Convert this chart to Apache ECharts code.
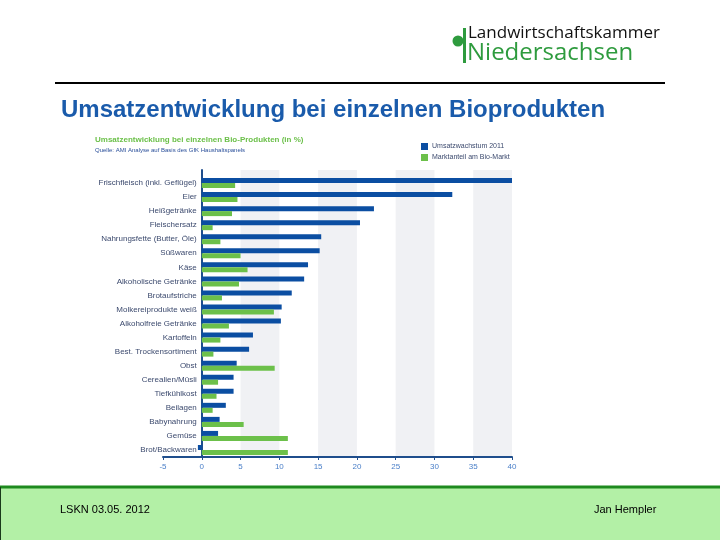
<!DOCTYPE html>
<html>
<head>
<meta charset="utf-8">
<script src="https://cdn.jsdelivr.net/npm/echarts@6/dist/echarts.min.js"></script>
<style>html,body{margin:0;padding:0;background:#fff}#c{width:720px;height:540px}</style>
</head>
<body>
<div id="c"></div>
<script>
const categories = [
  'Frischfleisch (inkl. Geflügel)', 'Eier', 'Heißgetränke', 'Fleischersatz',
  'Nahrungsfette (Butter, Öle)', 'Süßwaren', 'Käse', 'Alkoholische Getränke',
  'Brotaufstriche', 'Molkereiprodukte weiß', 'Alkoholfreie Getränke', 'Kartoffeln',
  'Best. Trockensortiment', 'Obst', 'Cerealien/Müsli', 'Tiefkühlkost',
  'Beilagen', 'Babynahrung', 'Gemüse', 'Brot/Backwaren'
];
const growth2011 = [40, 32.3, 22.2, 20.4, 15.4, 15.2, 13.7, 13.2, 11.6, 10.3, 10.2, 6.6, 6.1, 4.5, 4.1, 4.1, 3.1, 2.3, 2.1, -0.5];
const marketShare = [4.3, 4.6, 3.9, 1.4, 2.4, 5.0, 5.9, 4.8, 2.6, 9.3, 3.5, 2.4, 1.5, 9.4, 2.1, 1.9, 1.4, 5.4, 11.1, 11.1];
const xMin = -5, xMax = 40, xStep = 5;
const seriesNames = ['Umsatzwachstum 2011', 'Marktanteil am Bio-Markt'];

const BLUE = '#0b4ea2', GREEN = '#6cc04a';
const chart = echarts.init(document.getElementById('c'), null, {renderer: 'canvas'});
const chartFont = 'Liberation Sans';

// plot frame (pixels); the zero line sits inside the frame, labels hang off it
const gridLeft = 163, gridRight = 208;
const plotW = 720 - gridLeft - gridRight;
const zeroOffset = (0 - xMin) / (xMax - xMin) * plotW;
const bandLeft = gridLeft + zeroOffset;

chart.setOption({
  animation: false,
  backgroundColor: '#ffffff',
  title: [
    {text: 'Umsatzentwicklung bei einzelnen Bioprodukten', left: 56, top: 93,
     textStyle: {fontFamily: 'Liberation Sans', fontWeight: 'bold', fontSize: 24, color: '#1a5bab'}},
    {text: 'Umsatzentwicklung bei einzelnen Bio-Produkten (in %)', left: 90, top: 131,
     textStyle: {fontFamily: chartFont, fontWeight: 'bold', fontSize: 8, color: GREEN},
     subtext: 'Quelle: AMI Analyse auf Basis des GfK Haushaltspanels', itemGap: 3,
     subtextStyle: {fontFamily: chartFont, fontSize: 6, color: '#2a4f9a'}},
    {text: 'LSKN 03.05. 2012', left: 55, top: 499,
     textStyle: {fontFamily: 'Liberation Sans', fontWeight: 'normal', fontSize: 11, color: '#000'}},
    {text: 'Jan Hempler', left: 589, top: 499,
     textStyle: {fontFamily: 'Liberation Sans', fontWeight: 'normal', fontSize: 11, color: '#000'}}
  ],
  legend: {
    orient: 'vertical', left: 416, top: 138, itemGap: 4, itemWidth: 7, itemHeight: 7, icon: 'rect',
    data: seriesNames,
    textStyle: {fontFamily: chartFont, fontSize: 7, color: '#3c4a6e', padding: [0, 0, 0, -1]}
  },
  grid: [
    {left: bandLeft, right: gridRight, top: 170, bottom: 83, containLabel: false},
    {left: gridLeft, right: gridRight, top: 176, bottom: 83, containLabel: false}
  ],
  xAxis: [
    {gridIndex: 0, type: 'value', min: 0, max: xMax, interval: xStep,
     axisLine: {show: false}, axisTick: {show: false}, axisLabel: {show: false},
     splitLine: {show: false},
     splitArea: {show: true, areaStyle: {color: ['rgba(0,0,0,0)', '#f0f1f4']}}},
    {gridIndex: 1, type: 'value', min: xMin, max: xMax, interval: xStep,
     axisLine: {show: true, lineStyle: {color: '#1f4e8c', width: 2}},
     axisTick: {show: true, length: 3, lineStyle: {color: '#1f4e8c'}},
     axisLabel: {show: true, margin: 6, fontFamily: chartFont, fontSize: 8, color: '#4a7fc8'},
     splitLine: {show: false}, splitArea: {show: false}}
  ],
  yAxis: [
    {gridIndex: 0, type: 'category', data: categories, inverse: true,
     axisLine: {show: true, onZero: false, lineStyle: {color: '#1f4e8c', width: 2}},
     axisTick: {show: false}, axisLabel: {show: false}},
    {gridIndex: 1, type: 'category', data: categories, inverse: true,
     axisLine: {show: false, onZero: false},
     axisTick: {show: false},
     axisLabel: {show: true, margin: 5 - zeroOffset, fontFamily: chartFont, fontSize: 8, color: '#3c4a6e'}}
  ],
  series: [
    {name: seriesNames[0], type: 'bar', xAxisIndex: 1, yAxisIndex: 1, data: growth2011,
     barWidth: 5, barGap: '0%', itemStyle: {color: BLUE}},
    {name: seriesNames[1], type: 'bar', xAxisIndex: 1, yAxisIndex: 1, data: marketShare,
     barWidth: 5, barGap: '0%', itemStyle: {color: GREEN}}
  ],
  graphic: [
    {type: 'line', shape: {x1: 55, y1: 83, x2: 665, y2: 83}, style: {stroke: '#000', lineWidth: 2}},
    {type: 'rect', shape: {x: 0, y: 486, width: 720, height: 54}, style: {fill: '#b3f0a6'}, z: -1},
    {type: 'line', shape: {x1: 0, y1: 487, x2: 720, y2: 487}, style: {stroke: '#1e8a1e', lineWidth: 3}},
    {type: 'line', shape: {x1: 0.5, y1: 487, x2: 0.5, y2: 540}, style: {stroke: '#1a3a1a', lineWidth: 1}},
    {type: 'circle', shape: {cx: 458, cy: 41, r: 5.5}, style: {fill: '#2e9b3e'}},
    {type: 'rect', shape: {x: 463, y: 28, width: 3, height: 35}, style: {fill: '#2e9b3e'}},
    {type: 'text', left: 468, top: 25, style: {text: 'Landwirtschaftskammer', font: '17px "Open Sans"', fill: '#111'}},
    {type: 'text', left: 467, top: 41, style: {text: 'Niedersachsen', font: '24px "Open Sans"', fill: '#2e9b3e'}}
  ]
});
</script>
</body>
</html>
